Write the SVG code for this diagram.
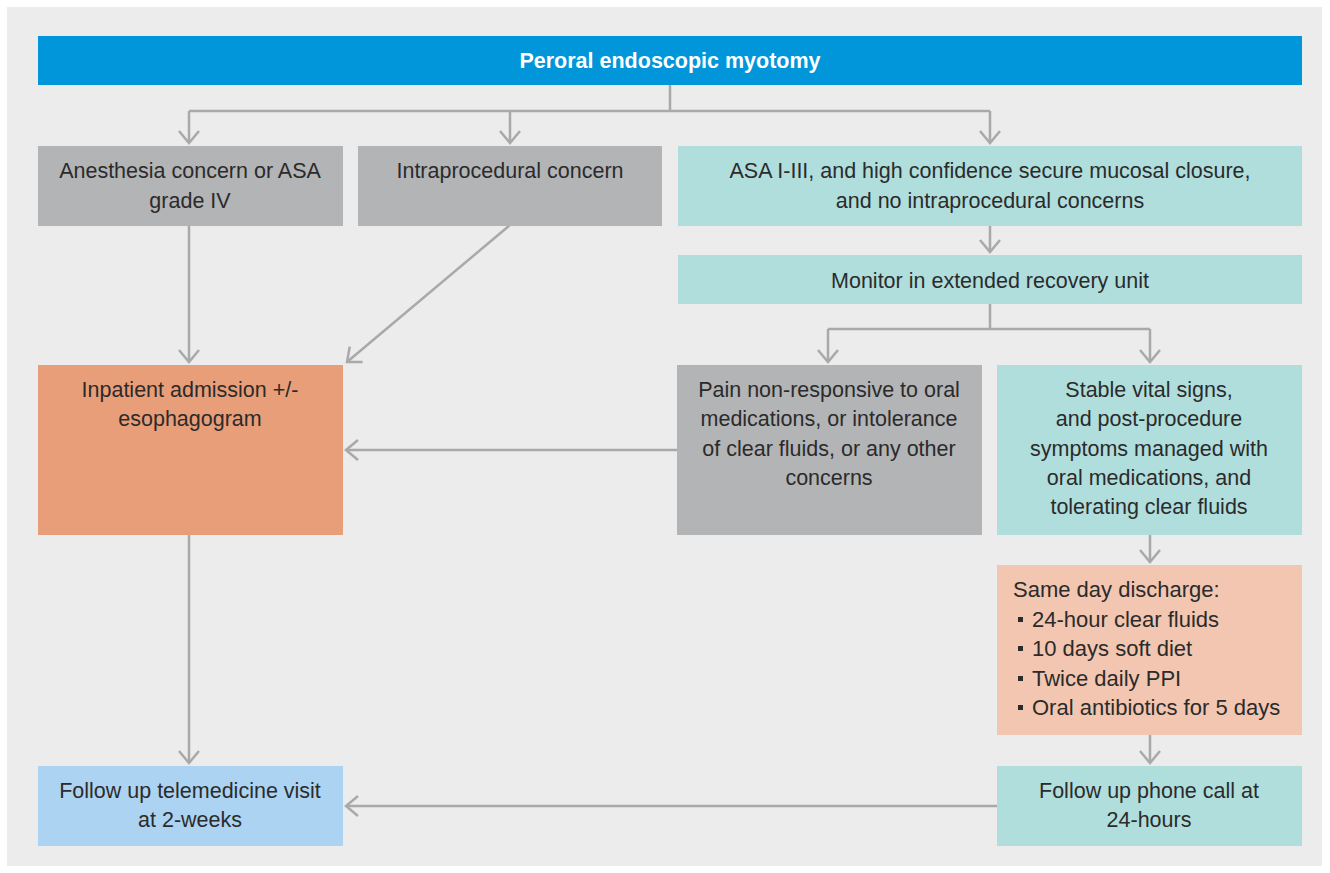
<svg xmlns="http://www.w3.org/2000/svg" width="1330" height="873" viewBox="0 0 1330 873">
<style>
.t{font-family:"Liberation Sans",Arial,sans-serif;font-size:21.5px;fill:#2b2b2b;text-anchor:middle}
.l{text-anchor:start;font-size:22px}
.gray{fill:#b3b4b6}
.teal{fill:#b0dedd}
.c{fill:none;stroke:#a8a9ab;stroke-width:2.5}
</style>
<defs>
<marker id="ah" markerUnits="userSpaceOnUse" markerWidth="30" markerHeight="30" viewBox="-15 -15 30 30" refX="0" refY="0" orient="auto">
<path d="M-12,-10 L0,0 L-12,10" fill="none" stroke="#a8a9ab" stroke-width="2.5"/>
</marker>
</defs>
<rect x="0" y="0" width="1330" height="873" fill="#ffffff"/>
<rect x="7" y="7" width="1315" height="859" fill="#ebeceb"/>
<g id="connectors">
<path class="c" d="M670,85 V111 M189,111 H990"/>
<path class="c" d="M189,111 V143" marker-end="url(#ah)"/>
<path class="c" d="M510,111 V143" marker-end="url(#ah)"/>
<path class="c" d="M990,111 V143" marker-end="url(#ah)"/>
<path class="c" d="M990,225 V252" marker-end="url(#ah)"/>
<path class="c" d="M990,304 V329 M828,329 H1150"/>
<path class="c" d="M828,329 V362" marker-end="url(#ah)"/>
<path class="c" d="M1150,329 V362" marker-end="url(#ah)"/>
<path class="c" d="M189,225 V362" marker-end="url(#ah)"/>
<path class="c" d="M510,225 L347,362" marker-end="url(#ah)"/>
<path class="c" d="M677,450 H346" marker-end="url(#ah)"/>
<path class="c" d="M189,535 V763" marker-end="url(#ah)"/>
<path class="c" d="M1150,535 V562" marker-end="url(#ah)"/>
<path class="c" d="M1150,735 V763" marker-end="url(#ah)"/>
<path class="c" d="M997,806 H346" marker-end="url(#ah)"/>
</g>
<g id="title">
<rect x="38" y="36" width="1264" height="49" fill="#0096d9"/>
<text class="t" x="670" y="68" style="fill:#ffffff;font-weight:bold">Peroral endoscopic myotomy</text>
</g>
<g id="anesthesia">
<rect class="gray" x="38" y="146" width="305" height="80"/>
<text class="t" x="190" y="178">Anesthesia concern or ASA</text>
<text class="t" x="190" y="208">grade IV</text>
</g>
<g id="intraprocedural">
<rect class="gray" x="358" y="146" width="304" height="80"/>
<text class="t" x="510" y="178">Intraprocedural concern</text>
</g>
<g id="asa">
<rect class="teal" x="678" y="146" width="624" height="80"/>
<text class="t" x="990" y="178">ASA I-III, and high confidence secure mucosal closure,</text>
<text class="t" x="990" y="208">and no intraprocedural concerns</text>
</g>
<g id="monitor">
<rect class="teal" x="678" y="255" width="624" height="49"/>
<text class="t" x="990" y="288">Monitor in extended recovery unit</text>
</g>
<g id="inpatient">
<rect x="38" y="365" width="305" height="170" fill="#e99e7a"/>
<text class="t" x="190" y="397">Inpatient admission +/-</text>
<text class="t" x="190" y="426">esophagogram</text>
</g>
<g id="pain">
<rect class="gray" x="677" y="365" width="305" height="170"/>
<text class="t" x="829" y="397">Pain non-responsive to oral</text>
<text class="t" x="829" y="426">medications, or intolerance</text>
<text class="t" x="829" y="456">of clear fluids, or any other</text>
<text class="t" x="829" y="485">concerns</text>
</g>
<g id="stable">
<rect class="teal" x="997" y="365" width="305" height="170"/>
<text class="t" x="1149" y="397">Stable vital signs,</text>
<text class="t" x="1149" y="426">and post-procedure</text>
<text class="t" x="1149" y="456">symptoms managed with</text>
<text class="t" x="1149" y="485">oral medications, and</text>
<text class="t" x="1149" y="514">tolerating clear fluids</text>
</g>
<g id="discharge">
<rect x="997" y="565" width="305" height="170" fill="#f2c6b0"/>
<text class="t l" x="1013" y="597">Same day discharge:</text>
<rect x="1018" y="617" width="5" height="5" fill="#2b2b2b"/>
<text class="t l" x="1032" y="627">24-hour clear fluids</text>
<rect x="1018" y="646" width="5" height="5" fill="#2b2b2b"/>
<text class="t l" x="1032" y="656">10 days soft diet</text>
<rect x="1018" y="676" width="5" height="5" fill="#2b2b2b"/>
<text class="t l" x="1032" y="686">Twice daily PPI</text>
<rect x="1018" y="705" width="5" height="5" fill="#2b2b2b"/>
<text class="t l" x="1032" y="715">Oral antibiotics for 5 days</text>
</g>
<g id="phone">
<rect class="teal" x="997" y="766" width="305" height="80"/>
<text class="t" x="1149" y="798">Follow up phone call at</text>
<text class="t" x="1149" y="827">24-hours</text>
</g>
<g id="telemedicine">
<rect x="38" y="766" width="305" height="80" fill="#acd3f1"/>
<text class="t" x="190" y="798">Follow up telemedicine visit</text>
<text class="t" x="190" y="827">at 2-weeks</text>
</g>
</svg>
